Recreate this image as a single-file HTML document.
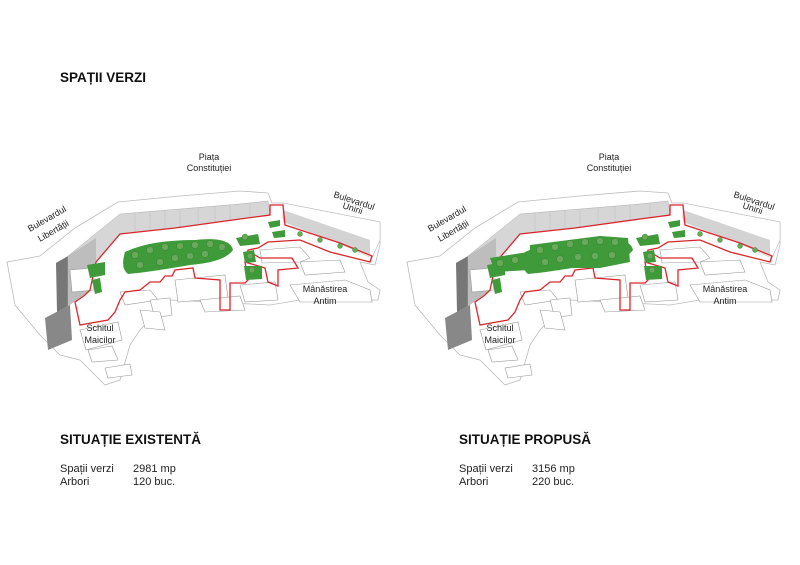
<!DOCTYPE html>
<html><head><meta charset="utf-8"><style>
html,body{margin:0;padding:0;background:#fff;width:800px;height:565px;overflow:hidden}
svg{display:block}
text{font-family:"Liberation Sans",sans-serif;fill:#222}
.h{font-weight:bold;font-size:13.5px;fill:#111}
.s{font-size:11px}
.l{font-size:9px;fill:#333}
</style></head><body>
<svg width="800" height="565" viewBox="0 0 800 565">
<defs>
<g id="d">
 <path d="M7,262 L40,256 L75,228 L118,202 L180,196 L240,191 L268,193 L272,203 L283,203 L380,222 L380,245 L375,265 L360,262 L368,282 L380,290 L378,300 L300,300 L270,305 L170,300 L140,330 L130,345 L120,380 L105,385 L80,360 L60,355 L40,335 L15,305 Z" fill="#fff" stroke="#bbb" stroke-width="0.8"/>
 <path d="M56,263 L68,256 L68,306 L57,312 Z" fill="#777"/>
 <path d="M45,318 L70,305 L72,340 L48,350 Z" fill="#888"/>
 <path d="M68,256 L120,214 L180,209 L240,204 L268,201 L270,215 L240,219 L175,228 L120,234 L96,262 L90,290 L68,306 Z" fill="#d6d6d6" stroke="#aaa" stroke-width="0.5"/>
 <path d="M68,256 L96,238 L96,262 L90,290 L68,306 Z" fill="#bdbdbd"/>
 <g stroke="#bbb" stroke-width="0.5">
  <line x1="135" y1="213" x2="135" y2="232"/><line x1="150" y1="212" x2="150" y2="231"/><line x1="165" y1="211" x2="165" y2="229"/><line x1="180" y1="210" x2="180" y2="227"/><line x1="198" y1="208" x2="198" y2="225"/><line x1="215" y1="206" x2="215" y2="222"/><line x1="230" y1="205" x2="230" y2="220"/><line x1="250" y1="203" x2="250" y2="217"/>
 </g>
 <path d="M283,203 L380,222 L380,240 L372,258 L283,218 Z" fill="#fff" stroke="#bbb" stroke-width="0.6"/>
 <path d="M283,210 L370,240 L370,255 L283,222 Z" fill="#d3d3d3"/>
 <g fill="#fff" stroke="#999" stroke-width="0.6">
  <path d="M260,250 L300,247 L310,258 L300,262 L262,263 Z"/>
  <path d="M300,262 L340,260 L345,272 L305,275 Z"/>
  <path d="M290,285 L345,280 L370,290 L372,302 L300,302 Z"/>
  <path d="M120,292 L150,290 L158,300 L125,305 Z"/>
  <path d="M175,280 L225,275 L228,298 L178,302 Z"/>
  <path d="M150,300 L170,298 L172,315 L155,318 Z"/>
  <path d="M140,310 L160,312 L165,330 L145,328 Z"/>
  <path d="M200,300 L240,296 L245,310 L205,312 Z"/>
  <path d="M240,285 L275,282 L278,300 L245,302 Z"/>
  <path d="M80,330 L118,322 L122,340 L86,350 Z"/>
  <path d="M88,350 L112,346 L118,360 L92,362 Z"/>
  <path d="M105,368 L130,364 L132,375 L108,378 Z"/>
  <path d="M70,270 L92,268 L94,290 L72,292 Z"/>
 </g>
 <path d="M90,290 L96,262 L120,234 L175,228 L240,219 L270,215 L270,205 L283,205 L285,225 L340,243 L372,256 L370,262 L330,252 L300,240 L268,242 L258,248 L248,250 L245,262 L265,268 L268,282 L278,286 L278,270 L298,268 L292,258 L260,258 L255,255 L245,262 L248,280 L245,283 L230,283 L230,310 L220,310 L220,280 L195,278 L193,268 L175,270 L172,276 L165,276 L160,282 L150,282 L140,290 L125,292 L120,300 L115,312 L108,320 L80,325 L75,302 L85,295 Z" fill="none" stroke="#d8262b" stroke-width="1.3"/>
 <g fill="#3f9a3a">
  <path d="M125,252 Q150,240 195,240 Q230,236 233,250 Q225,262 190,265 Q150,272 128,274 Q120,268 125,252 Z"/>
  <path d="M236,238 L258,234 L260,244 L240,246 Z"/>
  <path d="M243,252 L254,250 L256,262 L245,263 Z"/>
  <path d="M244,266 L262,266 L262,279 L246,280 Z"/>
  <path d="M87,265 L105,262 L105,275 L90,278 Z"/>
  <path d="M92,280 L100,278 L102,292 L95,294 Z"/>
  <path d="M268,222 L280,220 L280,226 L270,228 Z"/>
  <path d="M272,232 L285,230 L285,237 L274,238 Z"/>
 </g>
 <g fill="#6aa85a" stroke="#2f7a2a" stroke-width="0.4">
  <circle cx="135" cy="255" r="3.5"/><circle cx="150" cy="250" r="3.5"/><circle cx="165" cy="247" r="3.5"/><circle cx="180" cy="246" r="3.5"/><circle cx="195" cy="245" r="3.5"/><circle cx="210" cy="244" r="3.5"/><circle cx="222" cy="247" r="3.5"/><circle cx="140" cy="265" r="3.5"/><circle cx="160" cy="262" r="3.5"/><circle cx="175" cy="258" r="3.5"/><circle cx="190" cy="256" r="3.5"/><circle cx="205" cy="254" r="3.5"/><circle cx="245" cy="237" r="3"/><circle cx="250" cy="256" r="3"/><circle cx="252" cy="270" r="3"/><circle cx="300" cy="234" r="2.5"/><circle cx="320" cy="240" r="2.5"/><circle cx="340" cy="246" r="2.5"/><circle cx="355" cy="250" r="2.5"/>
 </g>
</g>
</defs>

<text x="60" y="82" class="h">SPAȚII VERZI</text>

<use href="#d"/>
<use href="#d" transform="translate(400,0)"/>
<g fill="#3f9a3a">
 <path d="M530,245 L600,236 L628,238 L630,262 L600,268 L560,268 L530,272 Z"/>
 <path d="M490,258 L528,252 L530,270 L495,272 Z"/>
</g>
<g fill="#6aa85a" stroke="#2f7a2a" stroke-width="0.4">
 <circle cx="540" cy="250" r="3.5"/><circle cx="555" cy="247" r="3.5"/><circle cx="570" cy="244" r="3.5"/><circle cx="585" cy="242" r="3.5"/><circle cx="600" cy="241" r="3.5"/><circle cx="615" cy="242" r="3.5"/><circle cx="545" cy="262" r="3.5"/><circle cx="560" cy="259" r="3.5"/><circle cx="578" cy="257" r="3.5"/><circle cx="595" cy="256" r="3.5"/><circle cx="612" cy="255" r="3.5"/><circle cx="500" cy="263" r="3.5"/><circle cx="515" cy="260" r="3.5"/>
</g>

<g class="l">
 <text x="209" y="160" text-anchor="middle">Piața</text>
 <text x="209" y="171" text-anchor="middle">Constituției</text>
 <text x="609" y="160" text-anchor="middle">Piața</text>
 <text x="609" y="171" text-anchor="middle">Constituției</text>
 <text transform="translate(333,197) rotate(18)">Bulevardul</text>
 <text transform="translate(342,208) rotate(18)">Unirii</text>
 <text transform="translate(733,197) rotate(18)">Bulevardul</text>
 <text transform="translate(742,208) rotate(18)">Unirii</text>
 <text transform="translate(30,232) rotate(-30)">Bulevardul</text>
 <text transform="translate(40,242) rotate(-30)">Libertății</text>
 <text transform="translate(430,232) rotate(-30)">Bulevardul</text>
 <text transform="translate(440,242) rotate(-30)">Libertății</text>
 <text x="325" y="292" text-anchor="middle">Mânăstirea</text>
 <text x="325" y="304" text-anchor="middle">Antim</text>
 <text x="725" y="292" text-anchor="middle">Mânăstirea</text>
 <text x="725" y="304" text-anchor="middle">Antim</text>
 <text x="100" y="331" text-anchor="middle">Schitul</text>
 <text x="100" y="343" text-anchor="middle">Maicilor</text>
 <text x="500" y="331" text-anchor="middle">Schitul</text>
 <text x="500" y="343" text-anchor="middle">Maicilor</text>
</g>

<text x="60" y="444" class="h">SITUAȚIE EXISTENTĂ</text>
<text x="60" y="472" class="s">Spații verzi</text><text x="133" y="472" class="s">2981 mp</text>
<text x="60" y="485" class="s">Arbori</text><text x="133" y="485" class="s">120 buc.</text>

<text x="459" y="444" class="h">SITUAȚIE PROPUSĂ</text>
<text x="459" y="472" class="s">Spații verzi</text><text x="532" y="472" class="s">3156 mp</text>
<text x="459" y="485" class="s">Arbori</text><text x="532" y="485" class="s">220 buc.</text>
</svg>
</body></html>
